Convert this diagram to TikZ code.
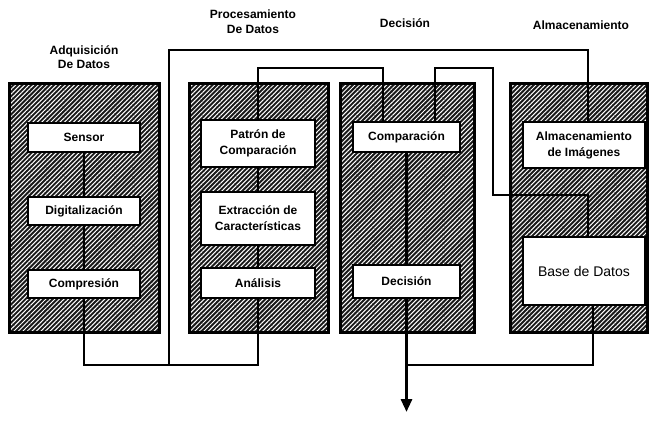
\documentclass[tikz,border=0pt]{standalone}
\usepackage{fontspec}
\setmainfont{Liberation Sans}
\usetikzlibrary{patterns.meta,arrows.meta}

\begin{document}
\begin{tikzpicture}[x=1pt, y=-1pt,
      panel/.style={draw, line width=3pt, preaction={fill=black!90}, pattern={Lines[angle=45, distance=3.2pt, line width=1pt]}, pattern color=white, inner sep=0pt},
      caja/.style={draw, line width=2.8pt, fill=white, inner sep=0pt, align=center, font=\fontsize{12}{16}\selectfont\bfseries},
      titulo/.style={align=center, font=\fontsize{12}{14.5}\selectfont\bfseries},
      linea/.style={line width=2.6pt},
      flecha/.style={line width=3pt, -{Triangle[width=11pt, length=13pt]}}]
    \useasboundingbox (0,0) rectangle (649,440);

    \node[titulo] (tadq) at (84,57) {Adquisición\\De Datos};
    \node[titulo] (tproc) at (253,21.5) {Procesamiento\\De Datos};
    \node[titulo] (tdec) at (405,23) {Decisión};
    \node[titulo] (talm) at (581,25) {Almacenamiento};

    \node[panel, minimum width=150, minimum height=249] (adq) at (84,207.5) {};
    \node[panel, minimum width=139, minimum height=249] (proc) at (258.5,207.5) {};
    \node[panel, minimum width=134, minimum height=249] (dec) at (407,207.5) {};
    \node[panel, minimum width=137, minimum height=249] (alm) at (578.5,207.5) {};

    \node[caja, minimum width=112, minimum height=29] (sensor) at (84,137.5) {Sensor};
    \node[caja, minimum width=112, minimum height=28] (digit) at (84,211) {Digitalización};
    \node[caja, minimum width=112, minimum height=28] (compr) at (84,284) {Compresión};
    \node[caja, minimum width=114, minimum height=47] (patron) at (258,143.5) {Patrón de\\Comparación};
    \node[caja, minimum width=114, minimum height=53] (extra) at (258,218.5) {Extracción de\\Características};
    \node[caja, minimum width=114, minimum height=30] (analisis) at (258,283) {Análisis};
    \node[caja, minimum width=107, minimum height=30] (compar) at (406.5,137) {Comparación};
    \node[caja, minimum width=107, minimum height=33] (decis) at (406.5,281.5) {Decisión};
    \node[caja, minimum width=122, minimum height=46] (almimg) at (584,145) {Almacenamiento\\de Imágenes};
    \node[caja, minimum width=122, minimum height=68, font=\fontsize{14}{16}\selectfont] (bd) at (584,271) {Base de Datos};

    \coordinate (nsup) at (0,50);
    \coordinate (nmed) at (0,68);
    \coordinate (ninf) at (0,365);
    \coordinate (salida) at (0,412);
    \coordinate (ramal) at (169,365);
    \coordinate (codo) at (493,195);
    \coordinate (ealm) at ([xshift=4pt]almimg.north);
    \coordinate (ecomp1) at ([xshift=-23.5pt]compar.north);
    \coordinate (ecomp2) at ([xshift=28.5pt]compar.north);
    \coordinate (ebd) at ([xshift=4pt]bd.north);
    \coordinate (sbd) at ([xshift=9pt]bd.south);

    \draw[linea] (sensor) -- (digit);
    \draw[linea] (digit) -- (compr);
    \draw[linea] (patron) -- (extra);
    \draw[linea] (extra) -- (analisis);
    \draw[linea] (compar) -- (decis);
    \draw[linea] (compr.south) |- (analisis.south |- ninf) -- (analisis.south);
    \draw[linea] (ramal) |- (ealm |- nsup) -- (ealm);
    \draw[linea] (patron.north) |- (ecomp1 |- nmed) -- (ecomp1);
    \draw[linea] (ecomp2) |- (codo |- nmed) -- (codo) -| (ebd);
    \draw[linea] (sbd) |- (decis.south |- ninf);
    \draw[flecha] (decis.south) -- (decis.south |- salida);
  \end{tikzpicture}
\end{document}
